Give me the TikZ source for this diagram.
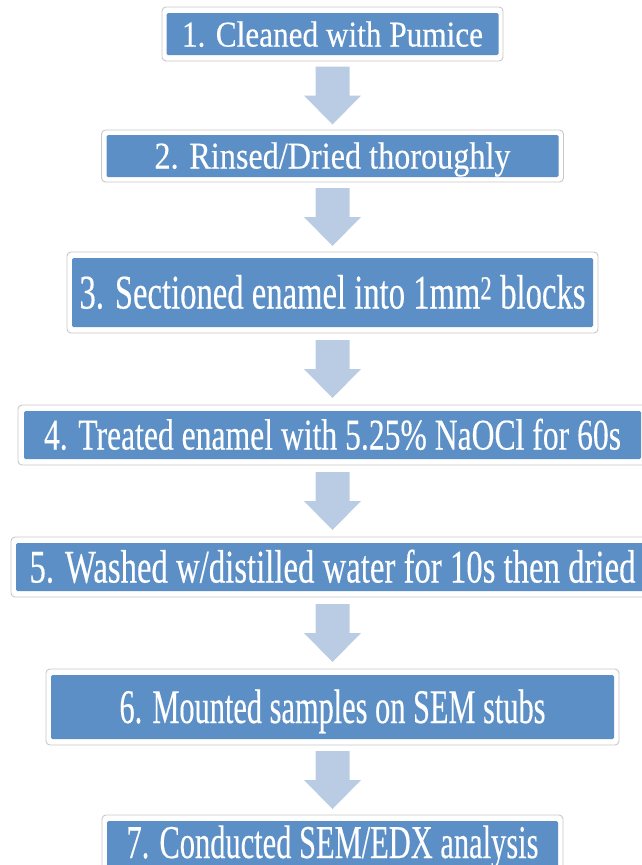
\documentclass[tikz,border=0pt]{standalone}
\usepackage{fontspec}
\setmainfont{Liberation Serif}
\newfontfamily\stepfont{Liberation Serif}[FakeBold=0.35]
\usepackage{graphicx}
\usetikzlibrary{calc}
\definecolor{boxblue}{RGB}{91,143,198}
\definecolor{arrowfill}{RGB}{185,204,228}
\definecolor{framegray}{RGB}{200,200,200}
\tikzset{
  frame/.style={draw=framegray, line width=0.9pt, fill=white, rounded corners=4pt, inner sep=0pt},
  bluebox/.style={fill=boxblue, rounded corners=1.5pt, inner sep=0pt},
  steplabel/.style={text=white, inner sep=0pt, anchor=base},
  blockarrow/.style={fill=arrowfill},
}
\newcommand{\steptext}[3]{\resizebox{#1pt}{\height}{\stepfont\fontsize{#2pt}{#2pt}\selectfont #3}}
\newcommand{\downblock}[1]{%
  \fill[blockarrow, shift={(#1)}] (-17,29) -- (17,29) -- (17,0) -- (28.5,0) -- (0,-29) -- (-28.5,0) -- (-17,0) -- cycle;}
\begin{document}
\begin{tikzpicture}[x=1pt,y=1pt]
\useasboundingbox (0,0) rectangle (642,-865);
% step 1
\node[frame, minimum width=341pt, minimum height=54pt] (f1) at (332.5,-34) {};
\node[bluebox, minimum width=332pt, minimum height=42pt] (b1) at (332.5,-34) {};
\node[steplabel] (t1) at (332.5,-46.5) {\steptext{301}{36.3}{1. Cleaned with Pumice}};
% step 2
\node[frame, minimum width=462pt, minimum height=52pt] (f2) at (332.5,-156) {};
\node[bluebox, minimum width=452pt, minimum height=42pt] (b2) at (332.5,-156) {};
\node[steplabel] (t2) at (332.5,-168.5) {\steptext{356}{37.8}{2. Rinsed/Dried thoroughly}};
% step 3
\node[frame, minimum width=531pt, minimum height=81pt] (f3) at (332.5,-292.5) {};
\node[bluebox, minimum width=521pt, minimum height=69pt] (b3) at (332.5,-292.5) {};
\node[steplabel] (t3) at (332.5,-308.5) {\steptext{506}{48.3}{3. Sectioned enamel into 1mm\textsuperscript{2} blocks}};
% step 4
\node[frame, minimum width=629pt, minimum height=60pt] (f4) at (332.5,-435) {};
\node[bluebox, minimum width=617pt, minimum height=48pt] (b4) at (332.5,-435) {};
\node[steplabel] (t4) at (332.5,-449.5) {\steptext{577}{43.8}{4. Treated enamel with 5.25\% NaOCl for 60s}};
% step 5
\node[frame, minimum width=643pt, minimum height=60pt] (f5) at (332.5,-567) {};
\node[bluebox, minimum width=633pt, minimum height=48pt] (b5) at (332.5,-567) {};
\node[steplabel] (t5) at (332.5,-582.5) {\steptext{606}{46.8}{5. Washed w/distilled water for 10s then dried}};
% step 6
\node[frame, minimum width=573pt, minimum height=76pt] (f6) at (332.5,-707) {};
\node[bluebox, minimum width=563pt, minimum height=64pt] (b6) at (332.5,-707) {};
\node[steplabel] (t6) at (332.5,-723) {\steptext{426}{48.3}{6. Mounted samples on SEM stubs}};
% step 7
\node[frame, minimum width=461pt, minimum height=60pt] (f7) at (332.5,-845) {};
\node[bluebox, minimum width=451pt, minimum height=48pt] (b7) at (332.5,-845) {};
\node[steplabel] (t7) at (332.5,-858) {\steptext{412}{47}{7. Conducted SEM/EDX analysis}};
% arrows
\coordinate (a1) at ($(f1.south)!0.5!(f2.north)$);
\coordinate (a2) at ($(f2.south)!0.5!(f3.north)$);
\coordinate (a3) at ($(f3.south)!0.5!(f4.north)$);
\coordinate (a4) at ($(f4.south)!0.5!(f5.north)$);
\coordinate (a5) at ($(f5.south)!0.5!(f6.north)$);
\coordinate (a6) at ($(f6.south)!0.5!(f7.north)$);
\downblock{a1}
\downblock{a2}
\downblock{a3}
\downblock{a4}
\downblock{a5}
\downblock{a6}
\end{tikzpicture}
\end{document}
